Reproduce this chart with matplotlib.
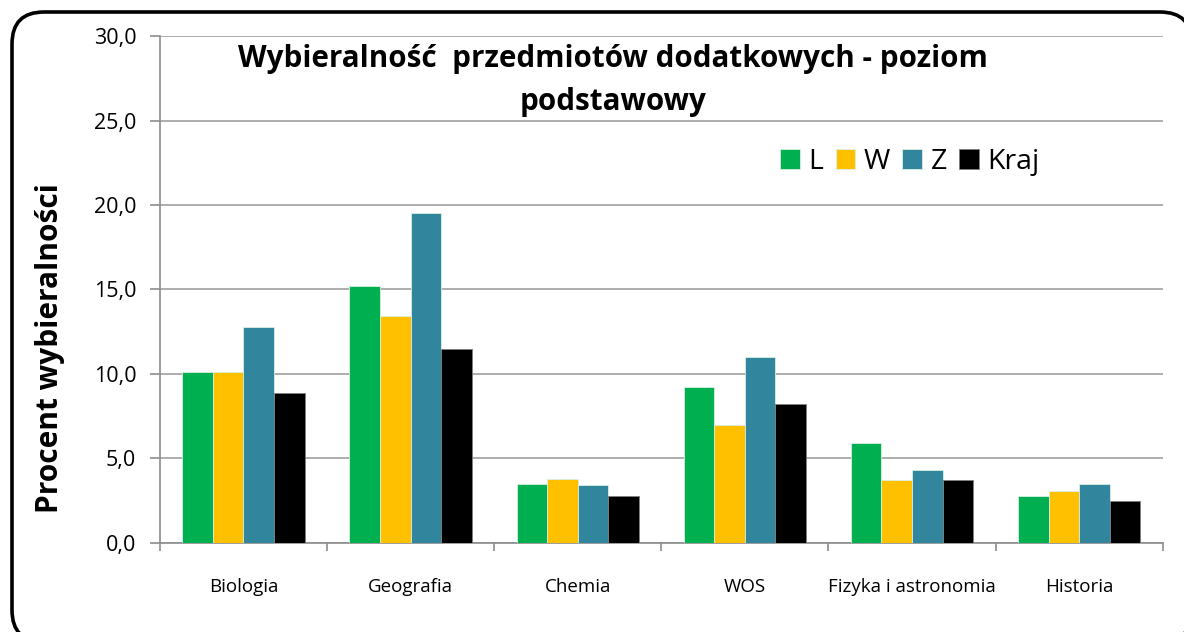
import numpy as np
import matplotlib
matplotlib.use("Agg")
import matplotlib.pyplot as plt
from matplotlib.patches import FancyBboxPatch
from matplotlib.ticker import FuncFormatter, FixedLocator

plt.rcParams['font.family'] = ['Open Sans', 'DejaVu Sans']

# data
categories = ["Biologia", "Geografia", "Chemia", "WOS", "Fizyka i astronomia", "Historia"]
series_names = ["L", "W", "Z", "Kraj"]
val_L = [10.1, 15.2, 3.5, 9.2, 5.9, 2.8]
val_W = [10.1, 13.4, 3.8, 7.0, 3.7, 3.1]
val_Z = [12.8, 19.5, 3.4, 11.0, 4.3, 3.5]
val_kraj = [8.9, 11.5, 2.8, 8.2, 3.7, 2.5]
colors = ["#00B050", "#FFC000", "#31859C", "#000000"]

W_PX, H_PX = 1184, 632
fig = plt.figure(figsize=(W_PX / 100, H_PX / 100), dpi=100)

# background axes in pixel units for the rounded frame
bg = fig.add_axes([0, 0, 1, 1])
bg.set_xlim(0, W_PX)
bg.set_ylim(H_PX, 0)
bg.axis("off")
frame = FancyBboxPatch((12, 12), 1180, 630, boxstyle="round,pad=0,rounding_size=32",
                       facecolor="white", edgecolor="black", linewidth=2.6)
bg.add_patch(frame)

ax = fig.add_axes([0.135, 0.141, 0.847, 0.802])
ax.patch.set_alpha(0)

x = np.arange(len(categories))
width = 0.183
all_vals = [val_L, val_W, val_Z, val_kraj]
for i, (vals, name, c) in enumerate(zip(all_vals, series_names, colors)):
    edge = "#7f7f7f" if c == "#000000" else "#d9f0e0"
    ax.bar(x + (i - 1.5) * width, vals, width, color=c, label=name,
           edgecolor=edge, linewidth=0.6, zorder=3)

ax.set_xlim(-0.5, len(categories) - 0.5)
ax.set_ylim(0, 30)
ax.set_yticks(np.arange(0, 31, 5))
ax.yaxis.set_major_formatter(FuncFormatter(lambda v, p: ("%.1f" % v).replace(".", ",")))
ax.grid(axis="y", color="#a0a0a0", linewidth=1.2, zorder=0)

ax.set_xticks(x)
ax.set_xticklabels(categories, fontsize=13.5)
ax.tick_params(axis="x", which="major", length=0, pad=25)
ax.xaxis.set_minor_locator(FixedLocator(np.arange(-0.5, len(categories), 1.0)))
ax.tick_params(axis="x", which="minor", length=6, color="#8c8c8c", width=1.2)
ax.tick_params(axis="y", length=7, color="#8c8c8c", width=1.2, labelsize=15.5, pad=10)

for s in ["top", "right"]:
    ax.spines[s].set_visible(False)
for s in ["left", "bottom"]:
    ax.spines[s].set_color("#8c8c8c")
    ax.spines[s].set_linewidth(1.2)

fig.text(0.518, 0.873, "Wybieralność  przedmiotów dodatkowych - poziom\npodstawowy",
         ha="center", va="center", fontsize=21.3, fontweight="bold", linespacing=1.55)

fig.text(0.042, 0.449, "Procent wybieralności", rotation=90, ha="center", va="center",
         fontsize=21.5, fontweight="bold")

ax.legend(loc="center", bbox_to_anchor=(0.748, 0.751), ncol=4, frameon=False,
          fontsize=20.5, handlelength=0.7, handleheight=0.7, handletextpad=0.3,
          columnspacing=0.42, borderaxespad=0)

fig.savefig("out.png", dpi=100)
